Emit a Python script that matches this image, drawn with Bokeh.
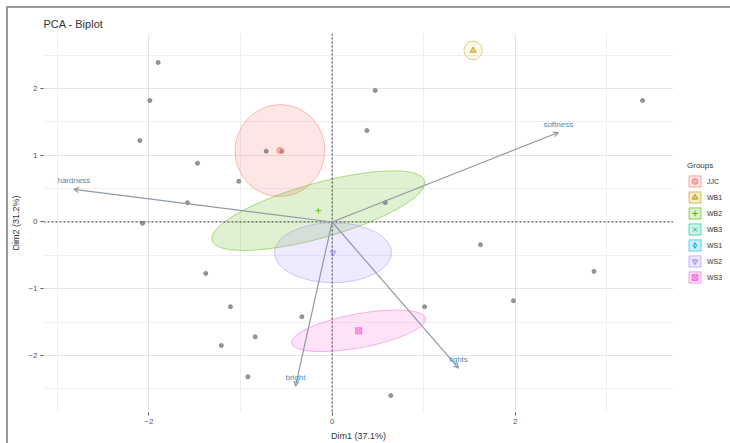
import numpy as np
from bokeh.plotting import figure
from bokeh.layouts import row
from bokeh.models import (ColumnDataSource, Span, Arrow, OpenHead, LabelSet,
                          Legend, LegendItem, FixedTicker, Range1d)
from bokeh.core.properties import value
from bokeh.embed import file_html
from bokeh.resources import INLINE

FONT = "Liberation Sans"

# Groups, their colours and point shapes
groups = ["JJC", "WB1", "WB2", "WB3", "WS1", "WS2", "WS3"]
group_colors = ["#F8766D", "#C49A00", "#53B400", "#00C094", "#00B6EB", "#A58AFF", "#FB61D7"]
group_markers = ["circle", "triangle", "cross", "x", "diamond", "inverted_triangle", "square_x"]

# Individual scores on Dim1 / Dim2
ind_x = [-1.90, -1.99, -2.10, -1.47, -1.02, -1.58, -2.07, -1.38, -1.11, -1.21,
         -0.92, -0.84, -0.33, 0.47, 0.38, 0.58, 1.62, 2.86, 1.98, 1.01,
         0.64, 3.39, -0.72, -0.55]
ind_y = [2.39, 1.82, 1.22, 0.88, 0.61, 0.29, -0.02, -0.77, -1.27, -1.85,
         -2.32, -1.72, -1.42, 1.97, 1.37, 0.29, -0.34, -0.74, -1.18, -1.27,
         -2.60, 1.82, 1.06, 1.06]

# Group centres and confidence ellipses (width on Dim1, height on Dim2, tilt in degrees)
ell_groups = ["JJC", "WB1", "WB2", "WS2", "WS3"]
ell_x = [-0.57, 1.54, -0.15, 0.01, 0.29]
ell_y = [1.07, 2.57, 0.17, -0.46, -1.63]
ell_w = [0.98, 0.20, 2.41, 1.28, 1.49]
ell_h = [1.38, 0.28, 0.82, 0.90, 0.51]
ell_angle = [-12, 0, 15.7, 0, 10.5]

# Variable loadings (arrow tips)
var_names = ["softness", "hardness", "bright", "lights"]
var_x = [2.47, -2.82, -0.40, 1.38]
var_y = [1.34, 0.49, -2.46, -2.19]

# Axis ticks
x_ticks = [-2, 0, 2]
x_minor = [-3, -1, 1, 3]
y_ticks = [-2, -1, 0, 1, 2]
y_minor = [-2.5, -1.5, -0.5, 0.5, 1.5, 2.5]

p = figure(width=665, height=435,
           x_range=Range1d(-3.152, 3.728), y_range=Range1d(-2.854, 2.824),
           output_backend="svg", toolbar_location=None,
           min_border_left=32, min_border_top=25, min_border_bottom=31,
           min_border_right=0, background_fill_color="white",
           border_fill_color="white")

p.outline_line_color = None
p.title.text = "PCA - Biplot"
p.title.text_font = FONT
p.title.text_font_size = "11px"
p.title.text_font_style = "normal"
p.title.text_color = "#333333"
p.title.offset = 0
p.title.standoff = 7

# Axes
p.xaxis.ticker = FixedTicker(ticks=x_ticks, minor_ticks=x_minor)
p.yaxis.ticker = FixedTicker(ticks=y_ticks, minor_ticks=y_minor)
for ax in (p.xaxis[0], p.yaxis[0]):
    ax.axis_line_color = None
    ax.major_tick_line_color = "#555555"
    ax.major_tick_out = 3
    ax.major_tick_in = 0
    ax.minor_tick_line_color = None
    ax.major_label_text_font = FONT
    ax.major_label_text_font_size = "8px"
    ax.major_label_text_color = "#555555"
    ax.major_label_standoff = 2
    ax.axis_label_text_font = FONT
    ax.axis_label_text_font_size = "9px"
    ax.axis_label_text_font_style = "normal"
    ax.axis_label_text_color = "#333333"
    ax.axis_label_standoff = 4
p.xaxis.axis_label = "Dim1 (37.1%)"
p.yaxis.axis_label = "Dim2 (31.2%)"

# Grid
p.xgrid.grid_line_color = "#e4e4e4"
p.ygrid.grid_line_color = "#e4e4e4"
p.xgrid.minor_grid_line_color = "#efefef"
p.ygrid.minor_grid_line_color = "#efefef"

# Reference lines through the origin
p.add_layout(Span(location=0, dimension="width", line_color="#444444",
                  line_dash="2 2", line_width=1))
p.add_layout(Span(location=0, dimension="height", line_color="#444444",
                  line_dash="2 2", line_width=1))

# Confidence ellipses
ell_color = [group_colors[groups.index(g)] for g in ell_groups]
ell_alpha = [0.18, 0.08, 0.18, 0.18, 0.18]
ell_src = ColumnDataSource(dict(x=ell_x, y=ell_y, w=ell_w, h=ell_h,
                                a=ell_angle, c=ell_color, fa=ell_alpha))
p.ellipse(x="x", y="y", width="w", height="h", angle="a", angle_units="deg",
          source=ell_src, fill_color="c", fill_alpha="fa",
          line_color="c", line_alpha=0.45, line_width=1)

# Individuals
p.scatter(ind_x, ind_y, size=4, color="#7d7d7d", alpha=0.8)

# Group centres
for g, gx, gy in zip(ell_groups, ell_x, ell_y):
    i = groups.index(g)
    p.scatter([gx], [gy], marker=group_markers[i], size=6,
              line_color=group_colors[i], fill_color=group_colors[i],
              fill_alpha=0.4, line_alpha=0.8, line_width=1)

# Variable arrows and labels
var_src = ColumnDataSource(dict(x0=[0] * len(var_x), y0=[0] * len(var_y),
                                x=var_x, y=var_y, name=var_names))
p.add_layout(Arrow(x_start="x0", y_start="y0", x_end="x", y_end="y",
                   source=var_src, line_color="#8f9aa3", line_width=1.2,
                   end=OpenHead(size=5, line_color="#8f9aa3", line_width=1.2)))
p.add_layout(LabelSet(x="x", y="y", text="name", source=var_src,
                      text_font=value(FONT), text_font_size="8px",
                      text_color="#4f8db0", text_align="center",
                      text_baseline="bottom", y_offset=4))

# Legend panel: a bare figure holding only the group key
lg = figure(width=57, height=435, x_range=Range1d(0, 1), y_range=Range1d(0, 1),
            output_backend="svg", toolbar_location=None,
            x_axis_location=None, y_axis_location=None,
            min_border=0, min_border_left=0, min_border_right=0,
            min_border_top=0, min_border_bottom=0)
lg.outline_line_color = None
lg.xgrid.visible = False
lg.ygrid.visible = False

items = []
for g, c, m in zip(groups, group_colors, group_markers):
    box = lg.rect(x=[np.nan], y=[np.nan], width=1, height=1, fill_color=c,
                  fill_alpha=0.2, line_color=c, line_alpha=0.6)
    mk = lg.scatter(x=[np.nan], y=[np.nan], marker=m, size=7, line_color=c,
                    fill_color=c, fill_alpha=0.4)
    items.append(LegendItem(label=g, renderers=[box, mk]))
legend = Legend(items=items, title="Groups", location=(14, 128),
                title_text_font=FONT, title_text_font_size="8px",
                title_text_font_style="normal", title_text_color="#333333",
                label_text_font=FONT, label_text_font_size="7px",
                label_text_color="#333333", glyph_width=15, glyph_height=14,
                label_height=14, label_standoff=5, spacing=2, padding=2,
                margin=0, title_standoff=4,
                border_line_color=None, background_fill_alpha=0)
lg.add_layout(legend)

layout = row(p, lg)
layout.styles = {"border-top": "2px solid #9a9a9a", "border-left": "2px solid #9a9a9a",
                 "margin-left": "6px", "margin-top": "6px"}

open("out.html", "w").write(file_html(layout, INLINE))
